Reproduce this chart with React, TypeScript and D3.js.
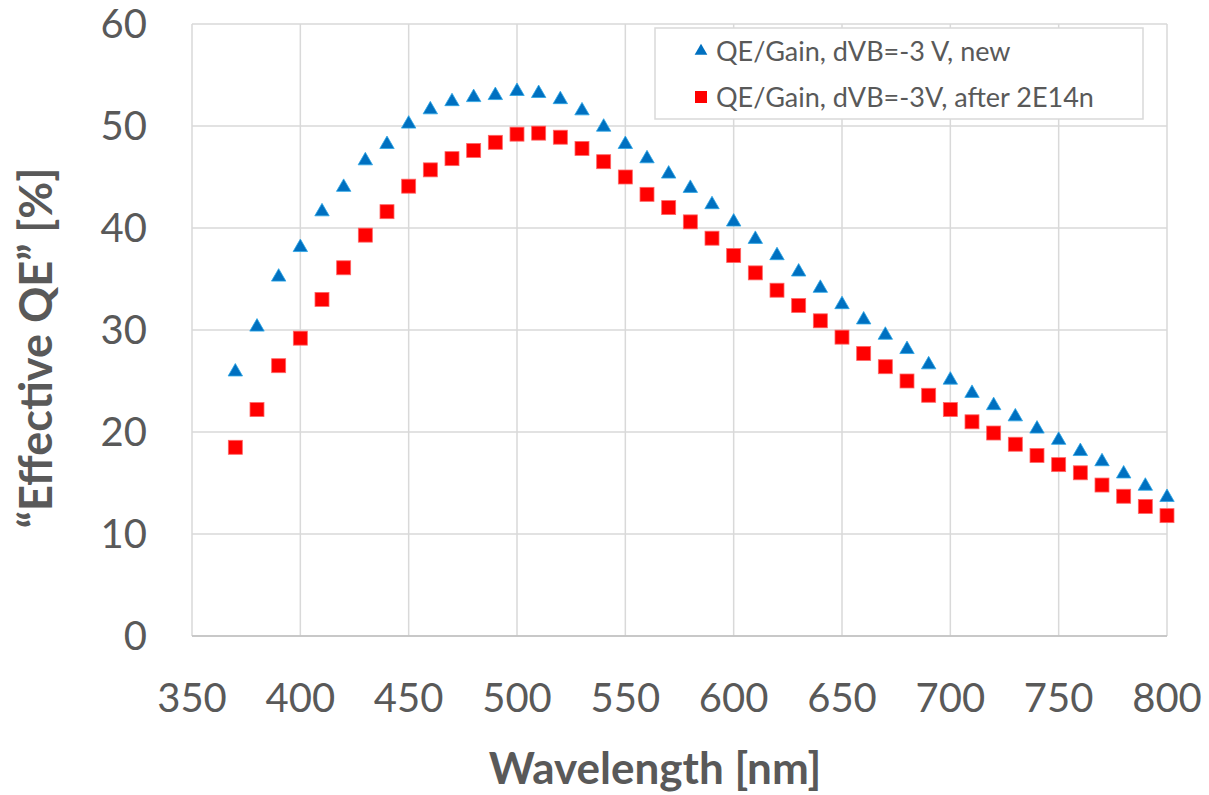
import React from "react";
import * as d3 from "d3";

const wavelengths = [370,380,390,400,410,420,430,440,450,460,470,480,490,500,510,520,530,540,550,560,570,580,590,600,610,620,630,640,650,660,670,680,690,700,710,720,730,740,750,760,770,780,790,800];
const qeNew = [25.9,30.3,35.2,38.1,41.6,44.0,46.6,48.2,50.2,51.6,52.4,52.8,53.0,53.4,53.2,52.6,51.5,49.9,48.2,46.8,45.3,43.9,42.3,40.6,38.9,37.3,35.7,34.1,32.5,31.0,29.5,28.1,26.6,25.1,23.8,22.6,21.5,20.3,19.2,18.1,17.1,15.9,14.7,13.6];
const qeIrr = [18.5,22.2,26.5,29.2,33.0,36.1,39.3,41.6,44.1,45.7,46.8,47.6,48.4,49.2,49.3,48.9,47.8,46.5,45.0,43.3,42.0,40.6,39.0,37.3,35.6,33.9,32.4,30.9,29.3,27.7,26.4,25.0,23.6,22.2,21.0,19.9,18.8,17.7,16.8,16.0,14.8,13.7,12.7,11.8];
const xTicks = [350,400,450,500,550,600,650,700,750,800];
const yTicks = [0,10,20,30,40,50,60];
const seriesNames = ["QE/Gain, dVB=-3 V, new", "QE/Gain, dVB=-3V, after 2E14n"];

const W = 1209, H = 795;
const left = 192, right = 1167, top = 24, bottom = 636;
const FONT = "Lato, 'Open Sans', sans-serif";

export default function App() {
  const x = d3.scaleLinear().domain([350, 800]).range([left, right]);
  const y = d3.scaleLinear().domain([0, 60]).range([bottom, top]);
  const tri = d3.symbol().type(d3.symbolTriangle).size(90)()!;
  const sq = 14;
  return (
    <svg width={W} height={H} style={{ position: "absolute", left: 0, top: 0, background: "#fff" }}>
      <rect x={0} y={0} width={W} height={H} fill="#fff" />
      {yTicks.map((t) => (
        <line key={"gy" + t} x1={left} x2={right} y1={y(t)} y2={y(t)} stroke="#d9d9d9" strokeWidth={1.5} />
      ))}
      {xTicks.map((t) => (
        <line key={"gx" + t} x1={x(t)} x2={x(t)} y1={top} y2={bottom} stroke="#d9d9d9" strokeWidth={1.5} />
      ))}
      <line x1={left} x2={right} y1={bottom} y2={bottom} stroke="#bfbfbf" strokeWidth={1.5} />
      {yTicks.map((t) => (
        <text key={"ty" + t} x={147} y={y(t)} dy="0.36em" textAnchor="end" fontFamily={FONT} fontSize={40} fill="#595959">{t}</text>
      ))}
      {xTicks.map((t) => (
        <text key={"tx" + t} x={x(t)} y={698} dy="0.36em" textAnchor="middle" fontFamily={FONT} fontSize={40} fill="#595959">{t}</text>
      ))}
      <text x={655} y={768} dy="0.36em" textAnchor="middle" fontFamily={FONT} fontSize={44} fontWeight="bold" fill="#595959">Wavelength [nm]</text>
      <text transform={`translate(36,348) rotate(-90)`} dy="0.36em" textAnchor="middle" fontFamily={FONT} fontSize={45} fontWeight="bold" fill="#595959">“Effective QE” [%]</text>
      {wavelengths.map((w, i) => (
        <path key={"b" + w} d={tri} transform={`translate(${x(w)},${y(qeNew[i])})`} fill="#0070c0" stroke="#2ba6e6" strokeWidth={0.8} />
      ))}
      {wavelengths.map((w, i) => (
        <rect key={"r" + w} x={x(w) - sq / 2} y={y(qeIrr[i]) - sq / 2} width={sq} height={sq} fill="#ff0000" stroke="#ff6666" strokeWidth={0.8} />
      ))}
      <rect x={655} y={28} width={488} height={91} fill="#fff" stroke="#d9d9d9" strokeWidth={1.5} />
      <path d={d3.symbol().type(d3.symbolTriangle).size(70)()!} transform="translate(701,51)" fill="#0070c0" />
      <rect x={695} y={91} width={12} height={12} fill="#ff0000" />
      <text x={716} y={51} dy="0.36em" fontFamily={FONT} fontSize={27} fill="#595959">{seriesNames[0]}</text>
      <text x={716} y={97} dy="0.36em" fontFamily={FONT} fontSize={27} fill="#595959">{seriesNames[1]}</text>
    </svg>
  );
}
